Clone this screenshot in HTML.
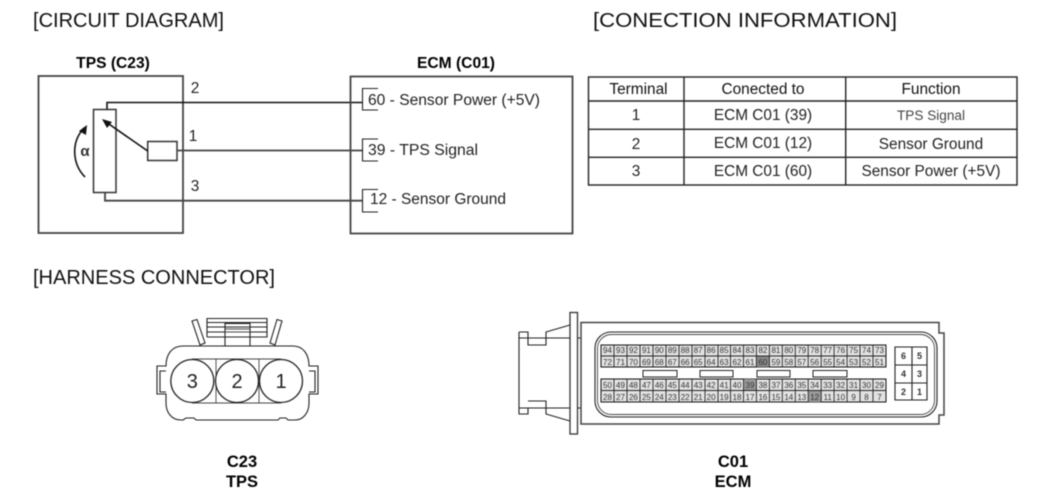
<!DOCTYPE html>
<html>
<head>
<meta charset="utf-8">
<style>
html,body{margin:0;padding:0;background:#fff;width:1050px;height:499px;overflow:hidden}
svg{display:block;filter:blur(0.5px)}
text{font-family:"Liberation Sans",sans-serif;fill:#111}
.h{font-size:20px}
.b{font-size:15.6px;font-weight:bold;text-anchor:middle;fill:#000}
.bb{font-size:16.5px;font-weight:bold;text-anchor:middle;fill:#000}
.t{font-size:15.5px;fill:#222}
.c{font-size:15.4px;text-anchor:middle;fill:#222}
.p{font-size:8px;text-anchor:middle;fill:#333}
.q{font-size:9px;text-anchor:middle;fill:#333;font-weight:bold}
.w{fill:none;stroke:#111;stroke-width:1.6}
.g{fill:none;stroke:#444;stroke-width:1.8}
.k{fill:none;stroke:#222;stroke-width:1.1}
.l{fill:none;stroke:#444;stroke-width:.9}
</style>
</head>
<body>
<svg width="1050" height="499" viewBox="0 0 1050 499" xmlns="http://www.w3.org/2000/svg">
<rect width="1050" height="499" fill="#fff"/>

<text class="h" x="33" y="27" textLength="191" lengthAdjust="spacingAndGlyphs">[CIRCUIT DIAGRAM]</text>
<text class="h" x="593" y="27" textLength="304" lengthAdjust="spacingAndGlyphs">[CONECTION INFORMATION]</text>
<text class="h" x="33" y="284" textLength="242" lengthAdjust="spacingAndGlyphs">[HARNESS CONNECTOR]</text>

<!-- TPS box -->
<text class="b" x="113" y="68">TPS (C23)</text>
<rect x="38.5" y="76" width="144.5" height="157" class="g"/>
<text class="c" x="195" y="93">2</text>
<text class="c" x="193" y="141">1</text>
<text class="c" x="195" y="191">3</text>
<rect x="93.5" y="109.5" width="22.5" height="83" fill="#fff" stroke="#333" stroke-width="1.5"/>
<path class="w" d="M107 109V102.5H362"/>
<path class="g" d="M105 193V200.7H362"/>
<rect x="147.7" y="141.5" width="29.3" height="19" fill="#fff" stroke="#333" stroke-width="1.5"/>
<path class="g" d="M177 150.5H362"/>
<path class="w" d="M147.7 151L106 122"/>
<path d="M102 119L112 122L107 128Z" fill="#111"/>
<path class="w" d="M85 177C73 165 70 143 84 128"/>
<path d="M87 125L86 135L79 131Z" fill="#111"/>
<text x="85" y="156" style="font-size:15px;text-anchor:middle;fill:#333;font-weight:bold">α</text>

<!-- ECM box -->
<text class="b" x="456" y="68">ECM (C01)</text>
<rect x="350.5" y="76.5" width="222" height="157" class="g"/>
<path class="k" d="M378 88.5H362.5V110H378"/>
<path class="k" d="M378 139H362.5V161H378"/>
<path class="k" d="M378 189.5H362.5V212H378"/>
<text class="t" x="368" y="105" textLength="172" lengthAdjust="spacingAndGlyphs">60 - Sensor Power (+5V)</text>
<text class="t" x="368" y="155" textLength="110" lengthAdjust="spacingAndGlyphs">39 - TPS Signal</text>
<text class="t" x="370" y="204" textLength="136" lengthAdjust="spacingAndGlyphs">12 - Sensor Ground</text>

<!-- Table -->
<g fill="none" stroke="#222" stroke-width="1.4">
<rect x="588.5" y="77" width="428.5" height="108"/>
<path d="M684 77V185M845.7 77V185M588.5 101H1017M588.5 129.3H1017M588.5 157.3H1017"/>
</g>
<text class="c" x="638.5" y="94" style="fill:#111">Terminal</text>
<text class="c" x="763" y="94" style="fill:#111">Conected to</text>
<text class="c" x="931" y="94" style="fill:#111">Function</text>
<text class="c" x="636" y="120">1</text>
<text class="c" x="763" y="120">ECM C01 (39)</text>
<text class="c" x="931" y="120" style="font-size:14.2px;fill:#444" textLength="68" lengthAdjust="spacingAndGlyphs">TPS Signal</text>
<text class="c" x="636" y="149">2</text>
<text class="c" x="763" y="148">ECM C01 (12)</text>
<text class="c" x="931" y="149">Sensor Ground</text>
<text class="c" x="636" y="176">3</text>
<text class="c" x="763" y="176">ECM C01 (60)</text>
<text class="c" x="931" y="176">Sensor Power (+5V)</text>

<!-- C23 connector -->
<path class="k" d="M183 346H293C303 346 309 354 309 366H318V394H309V403C309 413 303 420 295 420H288L286 418H280L278 420H196L194 418H186L183 420H181C172 420 166 413 166 403V394H157V366H166C166 354 172 346 183 346Z" fill="#fff"/>
<path class="k" d="M192 321L197 319.5L205 343L200 345ZM282 321L277 319.5L270 343L275 345Z" fill="#fff"/>
<path class="k" d="M207 337V318.5H267V337H207M207 322.5H267M207 327H267M207 332H267"/>
<path class="k" d="M225 345.5V323.5H250V345.5" fill="#fff"/>
<path class="l" d="M225 329H250M225 332H250"/>
<path class="k" d="M166 371H160V392H166M309 371H315V392H309"/>
<path class="l" d="M192 359H281M216 359V403M259 359V403M192 403H281"/>
<circle cx="192.3" cy="381" r="21.5" fill="#fff" stroke="#222" stroke-width="1.3"/>
<circle cx="237" cy="381" r="21.5" fill="#fff" stroke="#222" stroke-width="1.3"/>
<circle cx="281" cy="381" r="21.5" fill="#fff" stroke="#222" stroke-width="1.3"/>
<text x="192.3" y="388" style="font-size:20px;text-anchor:middle;fill:#222">3</text>
<text x="237" y="388" style="font-size:20px;text-anchor:middle;fill:#222">2</text>
<text x="281" y="388" style="font-size:20px;text-anchor:middle;fill:#222">1</text>
<text class="bb" x="242" y="467">C23</text>
<text class="bb" x="242" y="487">TPS</text>

<!-- C01 connector -->
<path class="k" d="M519 332H528V338H546V345H528V338M519 332V414H528V408M519 338H528M519 408H528M528 401H546V408H528M546 338V332L570 325M546 408V414L570 421M546 338H581M546 408H581"/>
<rect x="570" y="312.5" width="7.5" height="121.5" fill="#fff" stroke="#333" stroke-width="1.3"/>
<path d="M581 322.5H939V333H944V415H939V424H581Z" fill="#fff" stroke="#444" stroke-width="1.5"/>
<rect x="595" y="332" width="342" height="85" rx="16" fill="#fff" stroke="#222" stroke-width="1.1"/>
<rect x="597.5" y="334.5" width="337" height="80" rx="14" fill="#fff" stroke="#444" stroke-width=".9"/>

<rect x="601" y="345" width="285" height="22" fill="#e2e2e2" stroke="#111" stroke-width="1"/>
<rect x="601" y="379" width="285" height="23" fill="#e2e2e2" stroke="#111" stroke-width="1"/>
<rect x="756.4" y="356" width="13" height="11" fill="#888"/>
<rect x="743.5" y="379" width="13" height="11.5" fill="#999"/>
<rect x="808.2" y="390.5" width="13" height="11.5" fill="#999"/>
<path fill="none" stroke="#222" stroke-width=".9" d="M601 356H886M601 390.5H886M614 345V367M627 345V367M640 345V367M653 345V367M666 345V367M679 345V367M692 345V367M705 345V367M718 345V367M730.5 345V367M743.5 345V367M756.4 345V367M769.4 345V367M782.3 345V367M795.3 345V367M808.2 345V367M821.2 345V367M834.1 345V367M847.1 345V367M860 345V367M873 345V367M614 379V402M627 379V402M640 379V402M653 379V402M666 379V402M679 379V402M692 379V402M705 379V402M718 379V402M730.5 379V402M743.5 379V402M756.4 379V402M769.4 379V402M782.3 379V402M795.3 379V402M808.2 379V402M821.2 379V402M834.1 379V402M847.1 379V402M860 379V402M873 379V402"/>

<g fill="#fff" stroke="#222" stroke-width="1">
<rect x="643" y="370.5" width="34" height="6.5"/>
<rect x="700" y="370.5" width="33" height="6.5"/>
<rect x="757" y="370.5" width="33" height="6.5"/>
<rect x="813" y="370.5" width="34" height="6.5"/>
</g>

<text class="p" x="607.5" y="353">94</text><text class="p" x="620.5" y="353">93</text><text class="p" x="633.4" y="353">92</text><text class="p" x="646.4" y="353">91</text><text class="p" x="659.3" y="353">90</text><text class="p" x="672.3" y="353">89</text><text class="p" x="685.2" y="353">88</text><text class="p" x="698.2" y="353">87</text><text class="p" x="711.1" y="353">86</text><text class="p" x="724.1" y="353">85</text><text class="p" x="737" y="353">84</text><text class="p" x="750" y="353">83</text><text class="p" x="762.9" y="353">82</text><text class="p" x="775.9" y="353">81</text><text class="p" x="788.8" y="353">80</text><text class="p" x="801.8" y="353">79</text><text class="p" x="814.7" y="353">78</text><text class="p" x="827.7" y="353">77</text><text class="p" x="840.6" y="353">76</text><text class="p" x="853.6" y="353">75</text><text class="p" x="866.5" y="353">74</text><text class="p" x="879.5" y="353">73</text>
<text class="p" x="607.5" y="365">72</text><text class="p" x="620.5" y="365">71</text><text class="p" x="633.4" y="365">70</text><text class="p" x="646.4" y="365">69</text><text class="p" x="659.3" y="365">68</text><text class="p" x="672.3" y="365">67</text><text class="p" x="685.2" y="365">66</text><text class="p" x="698.2" y="365">65</text><text class="p" x="711.1" y="365">64</text><text class="p" x="724.1" y="365">63</text><text class="p" x="737" y="365">62</text><text class="p" x="750" y="365">61</text><text class="p" x="762.9" y="365">60</text><text class="p" x="775.9" y="365">59</text><text class="p" x="788.8" y="365">58</text><text class="p" x="801.8" y="365">57</text><text class="p" x="814.7" y="365">56</text><text class="p" x="827.7" y="365">55</text><text class="p" x="840.6" y="365">54</text><text class="p" x="853.6" y="365">53</text><text class="p" x="866.5" y="365">52</text><text class="p" x="879.5" y="365">51</text>
<text class="p" x="607.5" y="388">50</text><text class="p" x="620.5" y="388">49</text><text class="p" x="633.4" y="388">48</text><text class="p" x="646.4" y="388">47</text><text class="p" x="659.3" y="388">46</text><text class="p" x="672.3" y="388">45</text><text class="p" x="685.2" y="388">44</text><text class="p" x="698.2" y="388">43</text><text class="p" x="711.1" y="388">42</text><text class="p" x="724.1" y="388">41</text><text class="p" x="737" y="388">40</text><text class="p" x="750" y="388">39</text><text class="p" x="762.9" y="388">38</text><text class="p" x="775.9" y="388">37</text><text class="p" x="788.8" y="388">36</text><text class="p" x="801.8" y="388">35</text><text class="p" x="814.7" y="388">34</text><text class="p" x="827.7" y="388">33</text><text class="p" x="840.6" y="388">32</text><text class="p" x="853.6" y="388">31</text><text class="p" x="866.5" y="388">30</text><text class="p" x="879.5" y="388">29</text>
<text class="p" x="607.5" y="400">28</text><text class="p" x="620.5" y="400">27</text><text class="p" x="633.4" y="400">26</text><text class="p" x="646.4" y="400">25</text><text class="p" x="659.3" y="400">24</text><text class="p" x="672.3" y="400">23</text><text class="p" x="685.2" y="400">22</text><text class="p" x="698.2" y="400">21</text><text class="p" x="711.1" y="400">20</text><text class="p" x="724.1" y="400">19</text><text class="p" x="737" y="400">18</text><text class="p" x="750" y="400">17</text><text class="p" x="762.9" y="400">16</text><text class="p" x="775.9" y="400">15</text><text class="p" x="788.8" y="400">14</text><text class="p" x="801.8" y="400">13</text><text class="p" x="814.7" y="400">12</text><text class="p" x="827.7" y="400">11</text><text class="p" x="840.6" y="400">10</text><text class="p" x="853.6" y="400">9</text><text class="p" x="866.5" y="400">8</text><text class="p" x="879.5" y="400">7</text>

<path fill="#fff" stroke="#222" stroke-width="1.1" d="M895 347H927V400H895ZM912 347V400M895 365H927M895 383H927"/>
<text class="q" x="903.5" y="359">6</text><text class="q" x="919.5" y="359">5</text>
<text class="q" x="903.5" y="377">4</text><text class="q" x="919.5" y="377">3</text>
<text class="q" x="903.5" y="395">2</text><text class="q" x="919.5" y="395">1</text>

<text class="bb" x="733" y="467">C01</text>
<text class="bb" x="733" y="487">ECM</text>
</svg>
</body>
</html>
